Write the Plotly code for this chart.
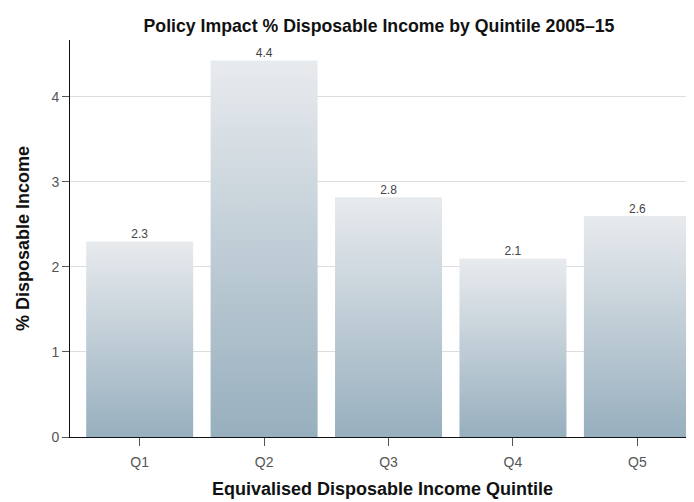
import plotly.graph_objects as go

categories = ["Q1", "Q2", "Q3", "Q4", "Q5"]
values = [2.3, 4.43, 2.82, 2.1, 2.6]
labels = ["2.3", "4.4", "2.8", "2.1", "2.6"]

BAR_W = 0.86
TOP_C = "#e8ebee"
BOT_C = "#97afbe"
FONT = "Liberation Sans, Arial, sans-serif"

# the page body adds an 8px offset; the figure is sized to fit the window
W, H = 686, 494
M_L, M_T, M_B = 62, 32, 65
PLOT_H = H - M_T - M_B

fig = go.Figure()
for i, v in enumerate(values):
    x0, x1 = i - BAR_W / 2, i + BAR_W / 2
    fig.add_trace(go.Scatter(
        x=[x0, x1, x1, x0, x0], y=[0, 0, v, v, 0],
        mode="lines", fill="toself",
        line=dict(width=0, color="rgba(0,0,0,0)"),
        fillgradient=dict(type="vertical", colorscale=[[0, BOT_C], [1, TOP_C]]),
        hoverinfo="skip", showlegend=False,
    ))

fig.add_trace(go.Scatter(
    x=list(range(len(categories))), y=values, mode="text",
    text=labels, textposition="top center",
    textfont=dict(family=FONT, size=12, color="#444444"),
    showlegend=False, hoverinfo="skip",
))

fig.add_annotation(
    text="<b>Equivalised Disposable Income Quintile</b>",
    xref="paper", yref="paper", x=0.5, y=-(52 / PLOT_H),
    xanchor="center", yanchor="middle", showarrow=False,
    font=dict(family=FONT, size=18, color="#111111"),
)

fig.update_layout(
    width=W, height=H,
    margin=dict(l=M_L, r=0, t=M_T, b=M_B, pad=0),
    paper_bgcolor="white", plot_bgcolor="white",
    font=dict(family=FONT, color="#333333"),
    title=dict(text="<b>Policy Impact % Disposable Income by Quintile 2005–15</b>",
               x=371 / W, xanchor="center", y=1 - 18 / H, yanchor="middle",
               font=dict(family=FONT, size=17.7, color="#111111")),
    xaxis=dict(
        range=[-0.56, 4.455], tickvals=list(range(len(categories))), ticktext=categories,
        showgrid=False, zeroline=False, showline=True, linecolor="#111111", linewidth=1,
        ticks="outside", ticklen=8, tickcolor="#555555", automargin=False,
        tickfont=dict(family=FONT, size=14, color="#555555"), ticklabelstandoff=4,
    ),
    yaxis=dict(
        range=[0, 4.67], tickvals=[0, 1, 2, 3, 4], showgrid=True, gridcolor="#dddddd",
        zeroline=False, showline=True, linecolor="#111111", linewidth=1,
        ticks="outside", ticklen=7, tickcolor="#555555", automargin=False,
        tickfont=dict(family=FONT, size=14, color="#555555"),
        title=dict(text="<b>% Disposable Income</b>",
                   font=dict(family=FONT, size=18, color="#111111"), standoff=17),
    ),
)

fig.write_html("out.html")
